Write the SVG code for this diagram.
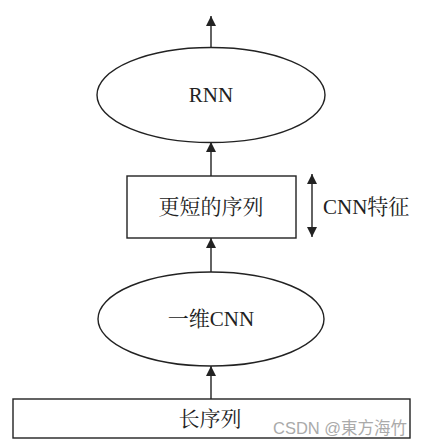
<svg xmlns="http://www.w3.org/2000/svg" width="425" height="447" viewBox="0 0 425 447">
<style>
.s{fill:#fff;stroke:#222;stroke-width:1.4}
.c{stroke:#222;stroke-width:1.4;fill:none}
.t{font-family:"Liberation Serif","Noto Serif CJK SC","Noto Sans CJK SC",serif;font-size:21px;fill:#222;text-anchor:middle}
.w{font-family:"Liberation Sans","Noto Sans CJK TC",sans-serif;font-size:16.5px;fill:#aaa}
</style>
<defs>
<marker id="a" viewBox="0 0 10 16" refX="10" refY="8" markerWidth="10" markerHeight="16" markerUnits="userSpaceOnUse" orient="auto-start-reverse">
<path d="M0,3 L10,8 L0,13 z" fill="#222"/>
</marker>
</defs>
<rect width="425" height="447" fill="#fff"/>
<g id="connectors">
<line class="c" x1="211" y1="47" x2="211" y2="16" marker-end="url(#a)"/>
<line class="c" x1="211" y1="176" x2="211" y2="142" marker-end="url(#a)"/>
<line class="c" x1="211" y1="272" x2="211" y2="238" marker-end="url(#a)"/>
<line class="c" x1="211" y1="399" x2="211" y2="366" marker-end="url(#a)"/>
<line class="c" x1="312" y1="174" x2="312" y2="237" marker-start="url(#a)" marker-end="url(#a)"/>
</g>
<g id="rnn">
<ellipse class="s" cx="211" cy="95" rx="114" ry="47.5"/>
<text class="t" x="211" y="102">RNN</text>
</g>
<g id="shorter">
<rect class="s" x="127" y="176" width="169" height="62"/>
<text class="t" x="211" y="214">更短的序列</text>
</g>
<g id="feature">
<text class="t" x="323" y="214" style="text-anchor:start">CNN特征</text>
</g>
<g id="cnn1d">
<ellipse class="s" cx="211" cy="319" rx="113" ry="47"/>
<text class="t" x="211" y="326">一维CNN</text>
</g>
<g id="long">
<rect class="s" x="13" y="399" width="397" height="39"/>
<text class="t" x="210" y="426">长序列</text>
<text class="w" x="273" y="434">CSDN @東方海竹</text>
</g>
</svg>
